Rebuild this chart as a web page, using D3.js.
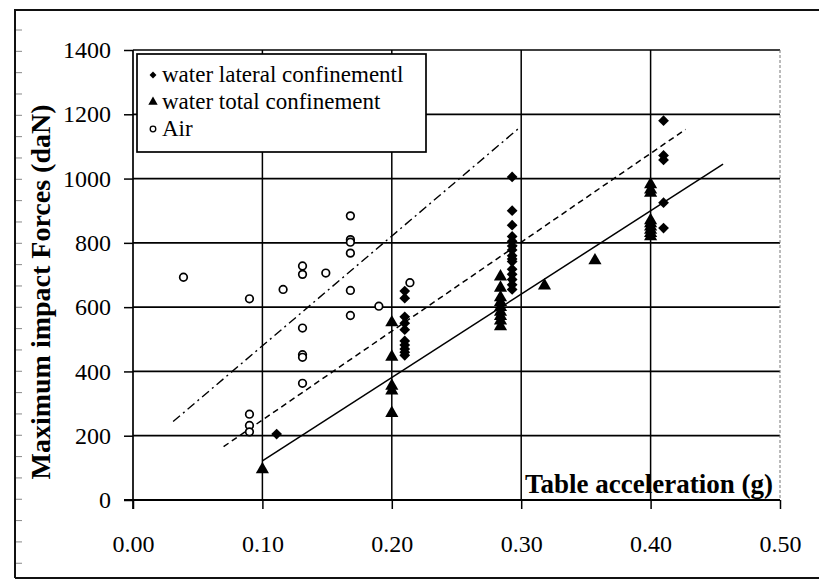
<!DOCTYPE html>
<html>
<head>
<meta charset="utf-8">
<script src="https://cdn.jsdelivr.net/npm/d3@7/dist/d3.min.js"></script>
<style>
  html, body { margin: 0; padding: 0; background: #fff; }
  svg { display: block; }
  svg text { font-family: "Liberation Serif", Tinos, "Times New Roman", "DejaVu Serif", serif; fill: #000; }
</style>
</head>
<body>
<svg id="chart" width="820" height="584"></svg>
<script>
// Impact force tests: measured peaks per table acceleration
const lateralConfinement = [
  [0.111, 205],
  [0.21, 650], [0.21, 628], [0.21, 570], [0.21, 550], [0.21, 530],
  [0.21, 495], [0.21, 482], [0.21, 470], [0.21, 460], [0.21, 450],
  [0.293, 1005], [0.293, 900], [0.293, 855], [0.293, 820], [0.293, 805],
  [0.293, 790], [0.293, 778], [0.293, 760], [0.293, 750], [0.293, 742],
  [0.293, 718], [0.293, 702], [0.293, 686], [0.293, 670], [0.293, 655],
  [0.41, 1180], [0.41, 1072], [0.41, 1058], [0.41, 925], [0.41, 846]
];
const totalConfinement = [
  [0.10, 95],
  [0.20, 552], [0.20, 445], [0.20, 355], [0.20, 340], [0.20, 270],
  [0.284, 695], [0.284, 660], [0.284, 630], [0.284, 615], [0.284, 600],
  [0.284, 585], [0.284, 572], [0.284, 558], [0.284, 540],
  [0.318, 667], [0.357, 745],
  [0.40, 982], [0.40, 965], [0.40, 955], [0.40, 870], [0.40, 860],
  [0.40, 850], [0.40, 840], [0.40, 830], [0.40, 820]
];
const airTests = [
  [0.039, 693],
  [0.09, 626], [0.09, 267], [0.09, 232], [0.09, 212],
  [0.116, 655],
  [0.131, 728], [0.131, 702], [0.131, 535], [0.131, 452], [0.131, 444], [0.131, 363],
  [0.149, 706],
  [0.168, 884], [0.168, 810], [0.168, 802], [0.168, 768], [0.168, 652], [0.168, 574],
  [0.19, 603], [0.214, 676]
];
// Trend lines: upper bound (dash-dot), mean (dashed), lower bound (solid)
const upperTrend = [[0.031, 244], [0.298, 1156]];
const meanTrend = [[0.070, 166], [0.427, 1153]];
const lowerTrend = [[0.100, 122], [0.456, 1045]];

const xTicks = [0, 0.1, 0.2, 0.3, 0.4, 0.5];
const yTicks = [0, 200, 400, 600, 800, 1000, 1200, 1400];
const legendLabels = ["water lateral confinementl", "water total confinement", "Air"];
const xTitle = "Table acceleration (g)";
const yTitle = "Maximum impact Forces (daN)";

const serif = "'Liberation Serif', Tinos, 'Times New Roman', serif";
const svg = d3.select("#chart");
const x = d3.scaleLinear().domain([0, 0.5]).range([133, 780]);
const y = d3.scaleLinear().domain([0, 1400]).range([500, 50]);

svg.append("rect").attr("width", 820).attr("height", 584).attr("fill", "#fff");

// outer frame of the figure
svg.append("path")
  .attr("d", "M15,578 L15,10 L819,10")
  .attr("fill", "none").attr("stroke", "#111").attr("stroke-width", 2);
svg.append("line").attr("x1", 15).attr("x2", 819).attr("y1", 578).attr("y2", 578)
  .attr("stroke", "#111").attr("stroke-width", 2.2);
svg.append("g").selectAll("line")
  .data(d3.range(30, 575, 21.33))
  .join("line")
  .attr("x1", 16).attr("x2", 22).attr("y1", d => d).attr("y2", d => d)
  .attr("stroke", "#888").attr("stroke-width", 1);

// grid
const grid = svg.append("g");
grid.selectAll("line.h").data(yTicks.slice(1)).join("line")
  .attr("class", "h")
  .attr("x1", x(0)).attr("x2", x(0.5))
  .attr("y1", d => y(d)).attr("y2", d => y(d))
  .attr("stroke", "#000").attr("stroke-width", 1.7);
grid.selectAll("line.v").data(xTicks.slice(1, -1)).join("line")
  .attr("class", "v")
  .attr("x1", d => x(d)).attr("x2", d => x(d))
  .attr("y1", y(1400)).attr("y2", y(0))
  .attr("stroke", "#000").attr("stroke-width", 1.5);
grid.append("line")
  .attr("x1", x(0.5)).attr("x2", x(0.5)).attr("y1", y(1400)).attr("y2", y(0))
  .attr("stroke", "#777").attr("stroke-width", 1).attr("stroke-dasharray", "3,2");

// axes
const xAxis = d3.axisBottom(x).tickValues(xTicks).tickFormat(d3.format(".2f"))
  .tickSize(9).tickPadding(26);
const gx = svg.append("g").attr("transform", `translate(0,${y(0)})`).call(xAxis)
  .attr("font-family", serif);
gx.select(".domain").attr("d", `M${x(0) - 9},0H${x(0.5)}`).attr("stroke-width", 2);
gx.selectAll(".tick line").attr("stroke-width", 1.5);
gx.selectAll(".tick text").attr("font-size", 24).style("font-family", serif).attr("fill", "#000");

const yAxis = d3.axisLeft(y).tickValues(yTicks).tickFormat(d3.format("d"))
  .tickSize(9).tickPadding(13);
const gy = svg.append("g").attr("transform", `translate(${x(0)},0)`).call(yAxis)
  .attr("font-family", serif);
gy.select(".domain").attr("d", `M0,${y(1400)}V${y(0) + 9}`).attr("stroke-width", 1.7);
gy.selectAll(".tick line").attr("stroke-width", 1.5);
gy.selectAll(".tick text").attr("font-size", 24).style("font-family", serif).attr("fill", "#000");

// axis titles
svg.append("text")
  .attr("x", 773).attr("y", 493)
  .attr("text-anchor", "end")
  .attr("font-size", 27).attr("font-weight", "bold").style("font-family", serif)
  .text(xTitle);
svg.append("text")
  .attr("transform", "translate(50,292) rotate(-90)")
  .attr("text-anchor", "middle")
  .attr("font-size", 28).attr("font-weight", "bold").style("font-family", serif)
  .text(yTitle);

// trend lines
const line = d3.line().x(d => x(d[0])).y(d => y(d[1]));
svg.append("path").datum(upperTrend).attr("d", line)
  .attr("fill", "none").attr("stroke", "#000").attr("stroke-width", 1.4)
  .attr("stroke-dasharray", "9,4,2,4");
svg.append("path").datum(meanTrend).attr("d", line)
  .attr("fill", "none").attr("stroke", "#000").attr("stroke-width", 1.5)
  .attr("stroke-dasharray", "6,4");
svg.append("path").datum(lowerTrend).attr("d", line)
  .attr("fill", "none").attr("stroke", "#000").attr("stroke-width", 1.5);

// markers: diamonds are squares turned 45 degrees
const diamond = d3.symbol().type(d3.symbolSquare).size(58);
const triangle = d3.symbol().type(d3.symbolTriangle).size(75);

svg.append("g").selectAll("circle").data(airTests).join("circle")
  .attr("cx", d => x(d[0])).attr("cy", d => y(d[1])).attr("r", 3.8)
  .attr("fill", "#fff").attr("stroke", "#000").attr("stroke-width", 1.7);
svg.append("g").selectAll("path").data(totalConfinement).join("path")
  .attr("transform", d => `translate(${x(d[0])},${y(d[1])})`)
  .attr("d", triangle).attr("fill", "#000");
svg.append("g").selectAll("path").data(lateralConfinement).join("path")
  .attr("transform", d => `translate(${x(d[0])},${y(d[1])}) rotate(45)`)
  .attr("d", diamond).attr("fill", "#000");

// legend
const lg = svg.append("g");
lg.append("rect")
  .attr("x", 137).attr("y", 54).attr("width", 289).attr("height", 98)
  .attr("fill", "#fff").attr("stroke", "#000").attr("stroke-width", 1.7);
const rowY = [75, 102, 129];
legendLabels.forEach((label, i) => {
  if (i === 0) {
    lg.append("path").attr("d", d3.symbol().type(d3.symbolSquare).size(24)())
      .attr("transform", `translate(153,${rowY[i]}) rotate(45)`).attr("fill", "#000");
  } else if (i === 1) {
    lg.append("path").attr("d", d3.symbol().type(d3.symbolTriangle).size(38)())
      .attr("transform", `translate(153,${rowY[i]})`).attr("fill", "#000");
  } else {
    lg.append("circle").attr("cx", 153).attr("cy", rowY[i]).attr("r", 2.8)
      .attr("fill", "#fff").attr("stroke", "#000").attr("stroke-width", 1.3);
  }
  lg.append("text").attr("x", 162).attr("y", rowY[i] + 7)
    .attr("font-size", 23).style("font-family", serif).text(label);
});
</script>
</body>
</html>
